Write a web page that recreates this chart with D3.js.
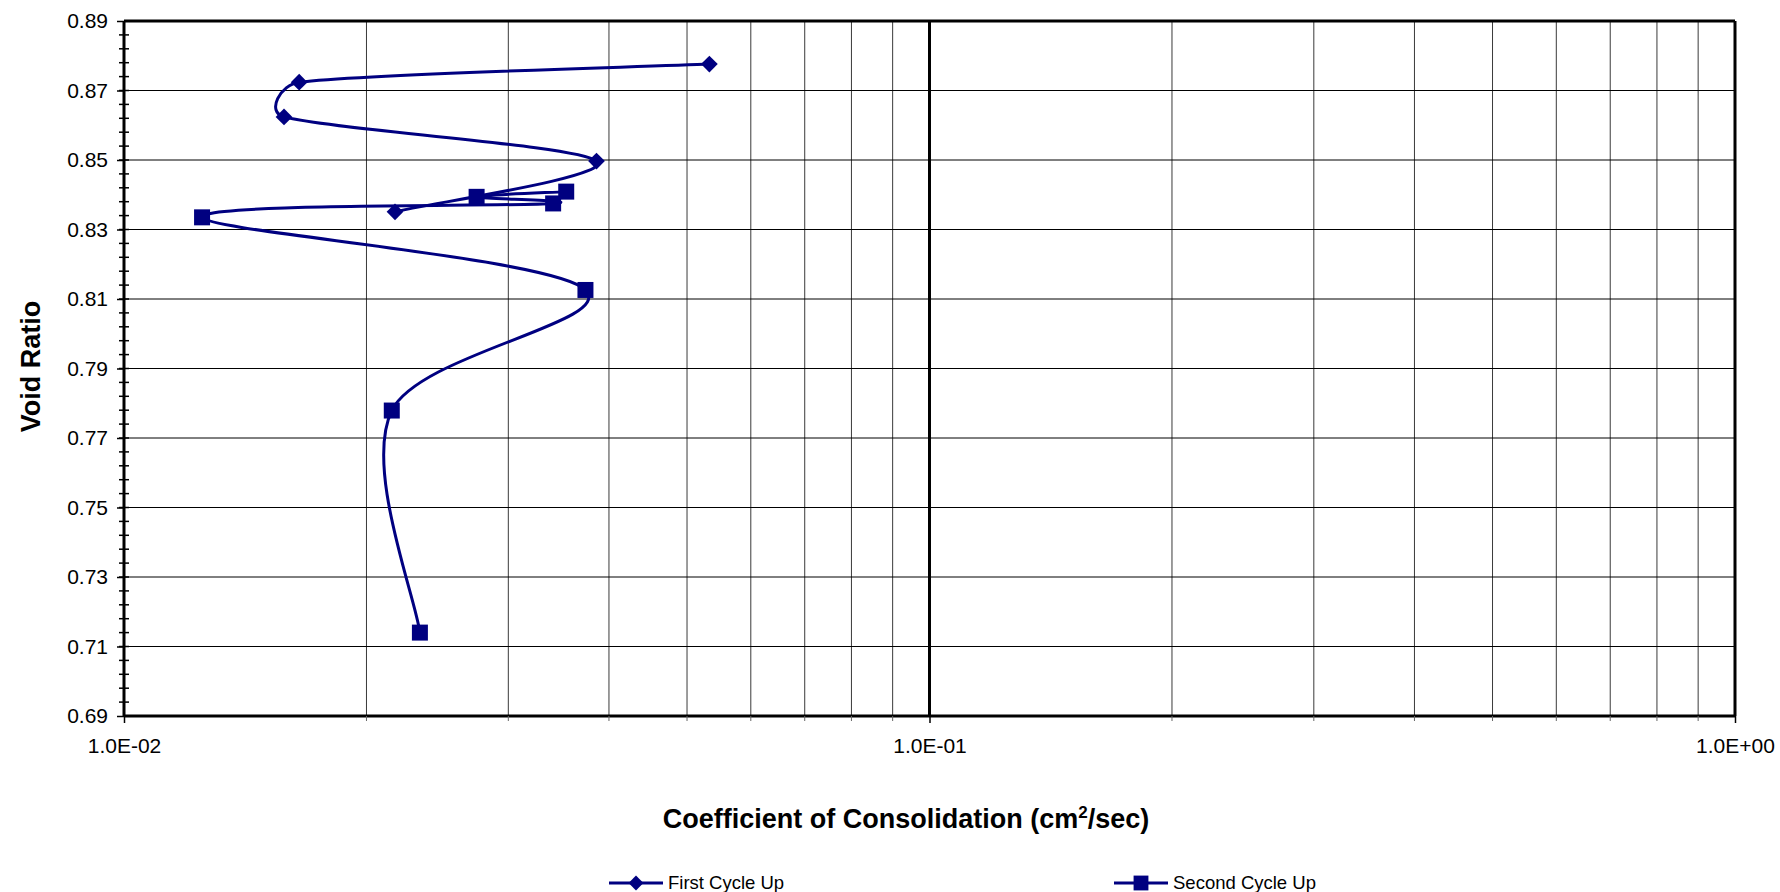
<!DOCTYPE html>
<html>
<head>
<meta charset="utf-8">
<script src="https://cdn.jsdelivr.net/npm/d3@7"></script>
<style>
  body { margin: 0; background: #fff; }
  svg { display: block; font-family: "Liberation Sans", Arial, sans-serif; }
</style>
</head>
<body>
<svg id="cv-chart" width="1780" height="892"></svg>
<script>
// First Cycle Up (diamonds)
const firstCycleCv = [0.0533, 0.0165, 0.0158, 0.0386, 0.0217];
const firstCycleE  = [0.8776, 0.8724, 0.8624, 0.8497, 0.8351];

// Second Cycle Up (squares)
const secondCycleCv = [0.0354, 0.0274, 0.0341, 0.0125, 0.0374, 0.0215, 0.0233];
const secondCycleE  = [0.8409, 0.8394, 0.8375, 0.8335, 0.8126, 0.7779, 0.7140];

const yTicks = [0.69, 0.71, 0.73, 0.75, 0.77, 0.79, 0.81, 0.83, 0.85, 0.87, 0.89];
const xTicks = [0.01, 0.1, 1];
const xTickLabels = ["1.0E-02", "1.0E-01", "1.0E+00"];
const seriesNames = ["First Cycle Up", "Second Cycle Up"];

var svg = d3.select("svg#cv-chart");
var margin = { top: 21, left: 124 };
var width = 1611;
var height = 695;
var navy = "#000080";
var g = svg.append("g").attr("transform", "translate(" + margin.left + "," + margin.top + ")");

var x = d3.scaleLog().domain([0.01, 1]).range([0, width]);
var y = d3.scaleLinear().domain([0.69, 0.89]).range([height, 0]);

// minor decade values 2..9
var minorX = [];
[0.01, 0.1].forEach(function(base) {
    d3.range(2, 10).forEach(function(m) { minorX.push(base * m); });
});

// vertical grid
g.append("g").selectAll("line").data(minorX).join("line")
    .attr("x1", d => x(d)).attr("x2", d => x(d))
    .attr("y1", 0).attr("y2", height)
    .attr("stroke", "#3a3a3a").attr("stroke-width", 1);

g.append("line")
    .attr("x1", x(0.1)).attr("x2", x(0.1))
    .attr("y1", 0).attr("y2", height)
    .attr("stroke", "#000").attr("stroke-width", 3);

// horizontal grid
g.append("g").selectAll("line").data(yTicks.slice(1, -1)).join("line")
    .attr("x1", 0).attr("x2", width)
    .attr("y1", d => y(d)).attr("y2", d => y(d))
    .attr("stroke", "#000").attr("stroke-width", 1);

// frame: top and right
g.append("line").attr("x1", 0).attr("x2", width).attr("y1", 0).attr("y2", 0)
    .attr("stroke", "#000").attr("stroke-width", 3);
g.append("line").attr("x1", width).attr("x2", width).attr("y1", 0).attr("y2", height)
    .attr("stroke", "#000").attr("stroke-width", 3);

// Y axis
var yAxis = g.append("g")
    .call(d3.axisLeft(y).tickValues(yTicks).tickSize(7).tickPadding(9).tickFormat(d3.format(".2f")));
yAxis.select(".domain").attr("stroke-width", 3).attr("d", "M0,0V" + height);
yAxis.selectAll(".tick line").attr("stroke-width", 1.5);
yAxis.selectAll("text").attr("font-size", 21).attr("font-family", "Liberation Sans, Arial, sans-serif").attr("fill", "#000");

// Y minor ticks crossing the axis
g.append("g").selectAll("line").data(d3.range(0.694, 0.889, 0.004)).join("line")
    .attr("x1", -5).attr("x2", 5)
    .attr("y1", d => y(d)).attr("y2", d => y(d))
    .attr("stroke", "#000").attr("stroke-width", 1.5);

// X axis
var xAxis = g.append("g")
    .attr("transform", "translate(0," + height + ")")
    .call(d3.axisBottom(x).tickValues(xTicks).tickSize(7).tickPadding(15)
        .tickFormat((d, i) => xTickLabels[i]));
xAxis.select(".domain").attr("stroke-width", 3).attr("d", "M0,0H" + width);
xAxis.selectAll(".tick line").attr("stroke-width", 1.5);
xAxis.selectAll("text").attr("font-size", 21).attr("font-family", "Liberation Sans, Arial, sans-serif").attr("fill", "#000");

g.append("g").attr("transform", "translate(0," + height + ")")
    .selectAll("line").data(minorX).join("line")
    .attr("x1", d => x(d)).attr("x2", d => x(d))
    .attr("y1", 0).attr("y2", 5)
    .attr("stroke", "#666").attr("stroke-width", 1);

// Excel-like smoothing: cardinal tangents, handles capped at half the segment
function excelSmooth(context) {
    var pts;
    function cap(t, max) {
        var len = Math.hypot(t[0], t[1]);
        return len > max ? [t[0] * max / len, t[1] * max / len] : t;
    }
    return {
        areaStart: function() {},
        areaEnd: function() {},
        lineStart: function() { pts = []; },
        point: function(px, py) { pts.push([+px, +py]); },
        lineEnd: function() {
            var n = pts.length;
            if (!n) return;
            context.moveTo(pts[0][0], pts[0][1]);
            for (var i = 0; i < n - 1; i++) {
                var p0 = pts[Math.max(i - 1, 0)], p1 = pts[i], p2 = pts[i + 1], p3 = pts[Math.min(i + 2, n - 1)];
                var seg = Math.hypot(p2[0] - p1[0], p2[1] - p1[1]) * 0.5;
                var t1 = cap([(p2[0] - p0[0]) / 6, (p2[1] - p0[1]) / 6], seg);
                var t2 = cap([(p3[0] - p1[0]) / 6, (p3[1] - p1[1]) / 6], seg);
                context.bezierCurveTo(p1[0] + t1[0], p1[1] + t1[1], p2[0] - t2[0], p2[1] - t2[1], p2[0], p2[1]);
            }
        }
    };
}

// Series
var line = d3.line()
    .x(d => x(d[0]))
    .y(d => y(d[1]))
    .curve(excelSmooth);

var first = firstCycleCv.map((v, i) => [v, firstCycleE[i]]);
var second = secondCycleCv.map((v, i) => [v, secondCycleE[i]]);

var diamond = d3.symbol().type(d3.symbolSquare).size(140);
var square = d3.symbol().type(d3.symbolSquare).size(256);

g.append("path").datum(first)
    .attr("fill", "none").attr("stroke", navy).attr("stroke-width", 3)
    .attr("d", line);
g.append("path").datum(second)
    .attr("fill", "none").attr("stroke", navy).attr("stroke-width", 3)
    .attr("d", line);

g.append("g").selectAll("path").data(first).join("path")
    .attr("d", diamond)
    .attr("transform", d => "translate(" + x(d[0]) + "," + y(d[1]) + ") rotate(45)")
    .attr("fill", navy);
g.append("g").selectAll("path").data(second).join("path")
    .attr("d", square)
    .attr("transform", d => "translate(" + x(d[0]) + "," + y(d[1]) + ")")
    .attr("fill", navy);

// Axis titles
svg.append("text")
    .attr("x", 906).attr("y", 828)
    .attr("text-anchor", "middle")
    .attr("font-size", 27).attr("font-weight", "bold")
    .html('Coefficient of Consolidation (cm<tspan dy="-10" font-size="17">2</tspan><tspan dy="10">/sec)</tspan>');

svg.append("text")
    .attr("transform", "translate(40," + (margin.top + height / 2 - 2) + ") rotate(-90)")
    .attr("text-anchor", "middle")
    .attr("font-size", 27).attr("font-weight", "bold")
    .text("Void Ratio");

// Legend
var legendX = [609, 1114];
var legend = svg.append("g").selectAll("g").data(seriesNames).join("g")
    .attr("transform", (d, i) => "translate(" + legendX[i] + ",883)");
legend.append("line").attr("x1", 0).attr("x2", 54)
    .attr("stroke", navy).attr("stroke-width", 3);
legend.append("path")
    .attr("d", (d, i) => i === 0 ? d3.symbol().type(d3.symbolSquare).size(110)() : d3.symbol().type(d3.symbolSquare).size(220)())
    .attr("transform", (d, i) => "translate(27,0)" + (i === 0 ? " rotate(45)" : ""))
    .attr("fill", navy);
legend.append("text")
    .attr("x", 59).attr("y", 6)
    .attr("font-size", 18.5)
    .text(d => d);
</script>
</body>
</html>
